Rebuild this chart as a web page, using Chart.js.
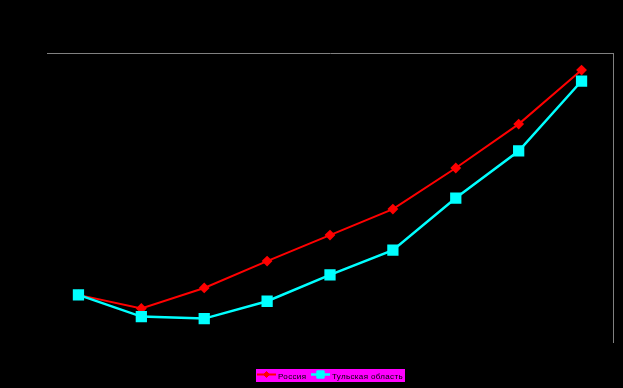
<!DOCTYPE html>
<html>
<head>
<meta charset="utf-8">
<script src="https://cdn.jsdelivr.net/npm/chart.js@4"></script>
<style>
  html, body { margin: 0; padding: 0; background: #000; }
  #wrap { width: 623px; height: 388px; position: relative; }
</style>
</head>
<body>
<div id="wrap"><canvas id="chart"></canvas></div>
<script>
// categories (no axis labels are shown on the chart)
const periods = ['2000', '2001', '2002', '2003', '2004', '2005', '2006', '2007', '2008'];

// series values (0..100 scale)
const russia = [16.3, 11.6, 18.7, 28.0, 37.0, 46.0, 60.2, 75.4, 94.1];
const tula = [16.3, 8.8, 8.1, 14.1, 23.2, 31.8, 49.8, 66.1, 90.3];

const seriesNames = ['Россия', 'Тульская область'];

// legend drawn on a magenta strip under the plot
const legendStrip = {
  id: 'legendStrip',
  afterDraw(chart) {
    const ctx = chart.ctx;
    const x0 = 256, y0 = 369, w = 149, h = 13;
    const itemX = [257, 311];
    ctx.save();
    ctx.fillStyle = '#ff00ff';
    ctx.fillRect(x0, y0, w, h);
    ctx.font = '8px "Liberation Sans", Arial, sans-serif';
    ctx.letterSpacing = '0.35px';
    ctx.textBaseline = 'middle';
    const my = y0 + 5.5;
    chart.data.datasets.forEach((ds, i) => {
      const x = itemX[i];
      ctx.strokeStyle = ds.borderColor;
      ctx.lineWidth = ds.borderWidth;
      ctx.beginPath();
      ctx.moveTo(x, my);
      ctx.lineTo(x + 19, my);
      ctx.stroke();
      ctx.fillStyle = ds.pointBackgroundColor;
      ctx.strokeStyle = ds.pointBorderColor;
      ctx.lineWidth = 1;
      Chart.helpers.drawPoint(ctx, { pointStyle: ds.pointStyle, radius: ds.pointRadius - 1, borderWidth: 1 }, x + 9.5, my);
      ctx.fillStyle = '#000';
      ctx.fillText(ds.label, x + 21, y0 + 8);
    });
    ctx.restore();
  }
};

new Chart(document.getElementById('chart'), {
  type: 'line',
  data: {
    labels: periods,
    datasets: [
      {
        label: seriesNames[0],
        data: russia,
        order: 1,
        borderColor: '#ff0000',
        borderWidth: 2,
        pointStyle: 'rectRot',
        pointRadius: 4,
        pointBackgroundColor: '#ff0000',
        pointBorderColor: '#ff0000',
        tension: 0
      },
      {
        label: seriesNames[1],
        data: tula,
        order: 0,
        borderColor: '#00ffff',
        borderWidth: 2.5,
        pointStyle: 'rect',
        pointRadius: 6.2,
        pointBackgroundColor: '#00ffff',
        pointBorderColor: '#00ffff',
        tension: 0
      }
    ]
  },
  options: {
    responsive: true,
    maintainAspectRatio: false,
    animation: false,
    layout: {
      padding: { left: 47, top: 53, right: 10, bottom: 46 }
    },
    plugins: {
      legend: { display: false },
      tooltip: { enabled: false }
    },
    scales: {
      x: {
        position: 'top',
        offset: true,
        grid: { display: false, drawTicks: false },
        ticks: { display: false },
        border: { display: true, color: '#808080', width: 1 }
      },
      y: {
        position: 'right',
        min: 0,
        max: 100,
        grid: { display: false, drawTicks: false },
        ticks: { display: false },
        border: { display: true, color: '#808080', width: 1 }
      }
    }
  },
  plugins: [legendStrip]
});
</script>
</body>
</html>
